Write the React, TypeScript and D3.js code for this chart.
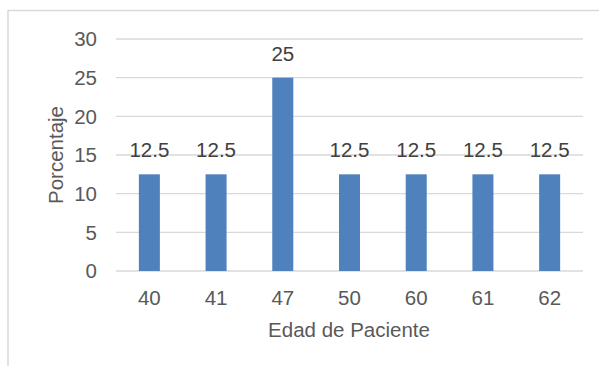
import React from "react";
import * as d3 from "d3";

const categories = ["40", "41", "47", "50", "60", "61", "62"];
const values = [12.5, 12.5, 25, 12.5, 12.5, 12.5, 12.5];
const yTicks = [0, 5, 10, 15, 20, 25, 30];
const xTitle = "Edad de Paciente";
const yTitle = "Porcentaje";

const W = 599;
const H = 366;
const plot = { left: 116, right: 583, top: 39, bottom: 271 };
const font = "Arial, 'Liberation Sans', sans-serif";
const fs = 20.5;

export default function App() {
  const x = d3
    .scaleBand<string>()
    .domain(categories)
    .range([plot.left, plot.right])
    .paddingInner(0.685)
    .paddingOuter(0.3425);
  const y = d3.scaleLinear().domain([0, 30]).range([plot.bottom, plot.top]);

  return (
    <svg
      width={W}
      height={H}
      style={{ position: "absolute", left: 0, top: 0 }}
      fontFamily={font}
    >
      <rect x={0} y={0} width={W} height={H} fill="#fff" />
      {/* chart frame */}
      <line x1={8} x2={W} y1={10.5} y2={10.5} stroke="#d9d9d9" strokeWidth={1.5} />
      <line x1={8} x2={8} y1={10} y2={H} stroke="#d9d9d9" strokeWidth={1.5} />

      {/* gridlines and y tick labels */}
      {yTicks.map((t) => (
        <g key={t}>
          <line
            x1={plot.left}
            x2={plot.right}
            y1={y(t)}
            y2={y(t)}
            stroke="#d9d9d9"
            strokeWidth={1.3}
          />
          <text
            x={97}
            y={y(t)}
            dy="0.35em"
            textAnchor="end"
            fontSize={fs}
            fill="#595959"
          >
            {t}
          </text>
        </g>
      ))}

      {/* bars with value labels */}
      {categories.map((c, i) => (
        <g key={c}>
          <rect
            x={x(c)}
            y={y(values[i])}
            width={x.bandwidth()}
            height={y(0) - y(values[i])}
            fill="#4f81bd"
          />
          <text
            x={(x(c) ?? 0) + x.bandwidth() / 2}
            y={y(values[i]) - 17}
            textAnchor="middle"
            fontSize={fs}
            fill="#404040"
          >
            {values[i]}
          </text>
          <text
            x={(x(c) ?? 0) + x.bandwidth() / 2}
            y={305}
            textAnchor="middle"
            fontSize={fs}
            fill="#595959"
          >
            {c}
          </text>
        </g>
      ))}

      {/* axis titles */}
      <text
        x={349}
        y={336.5}
        textAnchor="middle"
        fontSize={fs}
        fill="#595959"
      >
        {xTitle}
      </text>
      <text
        transform={`translate(56, ${(plot.top + plot.bottom) / 2}) rotate(-90)`}
        dy="0.35em"
        textAnchor="middle"
        fontSize={fs}
        fill="#595959"
      >
        {yTitle}
      </text>
    </svg>
  );
}
